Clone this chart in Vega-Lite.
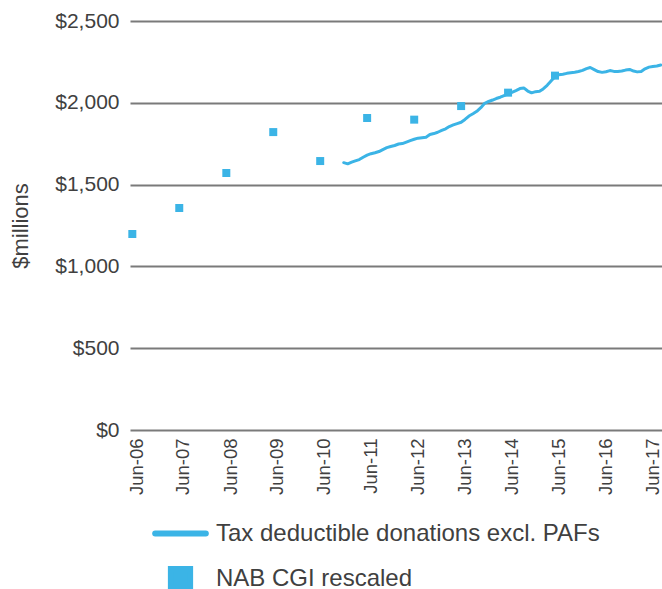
{
  "$schema": "https://vega.github.io/schema/vega-lite/v6.json",
  "width": 532,
  "height": 409,
  "autosize": {"type": "none"},
  "padding": {"left": 130, "top": 21, "right": 0, "bottom": 159},
  "background": "white",
  "config": {"view": {"stroke": null}, "font": "Liberation Sans"},
  "datasets": {
    "tax": [
      {"date": "2010-12-01", "value": 1634, "series": "Tax deductible donations excl. PAFs"},
      {"date": "2011-01-01", "value": 1627, "series": "Tax deductible donations excl. PAFs"},
      {"date": "2011-02-01", "value": 1637, "series": "Tax deductible donations excl. PAFs"},
      {"date": "2011-03-01", "value": 1645, "series": "Tax deductible donations excl. PAFs"},
      {"date": "2011-04-01", "value": 1653, "series": "Tax deductible donations excl. PAFs"},
      {"date": "2011-05-01", "value": 1667, "series": "Tax deductible donations excl. PAFs"},
      {"date": "2011-06-01", "value": 1680, "series": "Tax deductible donations excl. PAFs"},
      {"date": "2011-07-01", "value": 1689, "series": "Tax deductible donations excl. PAFs"},
      {"date": "2011-08-01", "value": 1695, "series": "Tax deductible donations excl. PAFs"},
      {"date": "2011-09-01", "value": 1702, "series": "Tax deductible donations excl. PAFs"},
      {"date": "2011-10-01", "value": 1714, "series": "Tax deductible donations excl. PAFs"},
      {"date": "2011-11-01", "value": 1726, "series": "Tax deductible donations excl. PAFs"},
      {"date": "2011-12-01", "value": 1733, "series": "Tax deductible donations excl. PAFs"},
      {"date": "2012-01-01", "value": 1739, "series": "Tax deductible donations excl. PAFs"},
      {"date": "2012-02-01", "value": 1748, "series": "Tax deductible donations excl. PAFs"},
      {"date": "2012-03-01", "value": 1751, "series": "Tax deductible donations excl. PAFs"},
      {"date": "2012-04-01", "value": 1760, "series": "Tax deductible donations excl. PAFs"},
      {"date": "2012-05-01", "value": 1769, "series": "Tax deductible donations excl. PAFs"},
      {"date": "2012-06-01", "value": 1777, "series": "Tax deductible donations excl. PAFs"},
      {"date": "2012-07-01", "value": 1784, "series": "Tax deductible donations excl. PAFs"},
      {"date": "2012-08-01", "value": 1787, "series": "Tax deductible donations excl. PAFs"},
      {"date": "2012-09-01", "value": 1790, "series": "Tax deductible donations excl. PAFs"},
      {"date": "2012-10-01", "value": 1806, "series": "Tax deductible donations excl. PAFs"},
      {"date": "2012-11-01", "value": 1812, "series": "Tax deductible donations excl. PAFs"},
      {"date": "2012-12-01", "value": 1820, "series": "Tax deductible donations excl. PAFs"},
      {"date": "2013-01-01", "value": 1831, "series": "Tax deductible donations excl. PAFs"},
      {"date": "2013-02-01", "value": 1841, "series": "Tax deductible donations excl. PAFs"},
      {"date": "2013-03-01", "value": 1855, "series": "Tax deductible donations excl. PAFs"},
      {"date": "2013-04-01", "value": 1865, "series": "Tax deductible donations excl. PAFs"},
      {"date": "2013-05-01", "value": 1873, "series": "Tax deductible donations excl. PAFs"},
      {"date": "2013-06-01", "value": 1881, "series": "Tax deductible donations excl. PAFs"},
      {"date": "2013-07-01", "value": 1898, "series": "Tax deductible donations excl. PAFs"},
      {"date": "2013-08-01", "value": 1919, "series": "Tax deductible donations excl. PAFs"},
      {"date": "2013-09-01", "value": 1933, "series": "Tax deductible donations excl. PAFs"},
      {"date": "2013-10-01", "value": 1948, "series": "Tax deductible donations excl. PAFs"},
      {"date": "2013-11-01", "value": 1970, "series": "Tax deductible donations excl. PAFs"},
      {"date": "2013-12-01", "value": 1997, "series": "Tax deductible donations excl. PAFs"},
      {"date": "2014-01-01", "value": 2008, "series": "Tax deductible donations excl. PAFs"},
      {"date": "2014-02-01", "value": 2017, "series": "Tax deductible donations excl. PAFs"},
      {"date": "2014-03-01", "value": 2026, "series": "Tax deductible donations excl. PAFs"},
      {"date": "2014-04-01", "value": 2034, "series": "Tax deductible donations excl. PAFs"},
      {"date": "2014-05-01", "value": 2044, "series": "Tax deductible donations excl. PAFs"},
      {"date": "2014-06-01", "value": 2054, "series": "Tax deductible donations excl. PAFs"},
      {"date": "2014-07-01", "value": 2064, "series": "Tax deductible donations excl. PAFs"},
      {"date": "2014-08-01", "value": 2075, "series": "Tax deductible donations excl. PAFs"},
      {"date": "2014-09-01", "value": 2087, "series": "Tax deductible donations excl. PAFs"},
      {"date": "2014-10-01", "value": 2091, "series": "Tax deductible donations excl. PAFs"},
      {"date": "2014-11-01", "value": 2072, "series": "Tax deductible donations excl. PAFs"},
      {"date": "2014-12-01", "value": 2061, "series": "Tax deductible donations excl. PAFs"},
      {"date": "2015-01-01", "value": 2068, "series": "Tax deductible donations excl. PAFs"},
      {"date": "2015-02-01", "value": 2070, "series": "Tax deductible donations excl. PAFs"},
      {"date": "2015-03-01", "value": 2085, "series": "Tax deductible donations excl. PAFs"},
      {"date": "2015-04-01", "value": 2107, "series": "Tax deductible donations excl. PAFs"},
      {"date": "2015-05-01", "value": 2133, "series": "Tax deductible donations excl. PAFs"},
      {"date": "2015-06-01", "value": 2160, "series": "Tax deductible donations excl. PAFs"},
      {"date": "2015-07-01", "value": 2172, "series": "Tax deductible donations excl. PAFs"},
      {"date": "2015-08-01", "value": 2175, "series": "Tax deductible donations excl. PAFs"},
      {"date": "2015-09-01", "value": 2180, "series": "Tax deductible donations excl. PAFs"},
      {"date": "2015-10-01", "value": 2184, "series": "Tax deductible donations excl. PAFs"},
      {"date": "2015-11-01", "value": 2187, "series": "Tax deductible donations excl. PAFs"},
      {"date": "2015-12-01", "value": 2191, "series": "Tax deductible donations excl. PAFs"},
      {"date": "2016-01-01", "value": 2198, "series": "Tax deductible donations excl. PAFs"},
      {"date": "2016-02-01", "value": 2209, "series": "Tax deductible donations excl. PAFs"},
      {"date": "2016-03-01", "value": 2216, "series": "Tax deductible donations excl. PAFs"},
      {"date": "2016-04-01", "value": 2203, "series": "Tax deductible donations excl. PAFs"},
      {"date": "2016-05-01", "value": 2191, "series": "Tax deductible donations excl. PAFs"},
      {"date": "2016-06-01", "value": 2186, "series": "Tax deductible donations excl. PAFs"},
      {"date": "2016-07-01", "value": 2190, "series": "Tax deductible donations excl. PAFs"},
      {"date": "2016-08-01", "value": 2197, "series": "Tax deductible donations excl. PAFs"},
      {"date": "2016-09-01", "value": 2192, "series": "Tax deductible donations excl. PAFs"},
      {"date": "2016-10-01", "value": 2191, "series": "Tax deductible donations excl. PAFs"},
      {"date": "2016-11-01", "value": 2194, "series": "Tax deductible donations excl. PAFs"},
      {"date": "2016-12-01", "value": 2200, "series": "Tax deductible donations excl. PAFs"},
      {"date": "2017-01-01", "value": 2204, "series": "Tax deductible donations excl. PAFs"},
      {"date": "2017-02-01", "value": 2194, "series": "Tax deductible donations excl. PAFs"},
      {"date": "2017-03-01", "value": 2189, "series": "Tax deductible donations excl. PAFs"},
      {"date": "2017-04-01", "value": 2192, "series": "Tax deductible donations excl. PAFs"},
      {"date": "2017-05-01", "value": 2208, "series": "Tax deductible donations excl. PAFs"},
      {"date": "2017-06-01", "value": 2218, "series": "Tax deductible donations excl. PAFs"},
      {"date": "2017-07-01", "value": 2222, "series": "Tax deductible donations excl. PAFs"},
      {"date": "2017-08-01", "value": 2225, "series": "Tax deductible donations excl. PAFs"},
      {"date": "2017-09-01", "value": 2231, "series": "Tax deductible donations excl. PAFs"}
    ],
    "nab": [
      {"date": "2006-06-01", "value": 1198, "series": "NAB CGI rescaled"},
      {"date": "2007-06-01", "value": 1357, "series": "NAB CGI rescaled"},
      {"date": "2008-06-01", "value": 1571, "series": "NAB CGI rescaled"},
      {"date": "2009-06-01", "value": 1821, "series": "NAB CGI rescaled"},
      {"date": "2010-06-01", "value": 1644, "series": "NAB CGI rescaled"},
      {"date": "2011-06-01", "value": 1907, "series": "NAB CGI rescaled"},
      {"date": "2012-06-01", "value": 1897, "series": "NAB CGI rescaled"},
      {"date": "2013-06-01", "value": 1980, "series": "NAB CGI rescaled"},
      {"date": "2014-06-01", "value": 2062, "series": "NAB CGI rescaled"},
      {"date": "2015-06-01", "value": 2166, "series": "NAB CGI rescaled"}
    ]
  },
  "encoding": {
    "x": {
      "field": "date",
      "type": "temporal",
      "scale": {
        "type": "utc",
        "domain": ["2006-05-14", "2017-09-10"]
      },
      "axis": {
        "values": ["2006-06-30", "2007-06-30", "2008-06-30", "2009-06-30", "2010-06-30", "2011-06-30", "2012-06-30", "2013-06-30", "2014-06-30", "2015-06-30", "2016-06-30", "2017-06-30"],
        "labelExpr": "utcFormat(datum.value, '%b-%y')",
        "labelAngle": 270,
        "labelAlign": "right",
        "labelBaseline": "middle",
        "labelPadding": 8,
        "labelFontSize": 18.5,
        "labelColor": "#404040",
        "labelFont": "Liberation Sans",
        "ticks": false,
        "domain": false,
        "grid": false,
        "labelOverlap": false,
        "title": null
      }
    },
    "y": {
      "field": "value",
      "type": "quantitative",
      "scale": {"domain": [0, 2500]},
      "axis": {
        "values": [0, 500, 1000, 1500, 2000, 2500],
        "format": "$,.0f",
        "grid": true,
        "gridColor": "#7a7a7a",
        "gridWidth": 1.8,
        "domain": false,
        "ticks": false,
        "labelPadding": 11,
        "labelFontSize": 21,
        "labelColor": "#404040",
        "labelFont": "Liberation Sans",
        "title": "$millions",
        "titleFont": "Liberation Sans",
        "titleFontSize": 22,
        "titleFontWeight": "normal",
        "titleColor": "#404040",
        "titlePadding": 22
      }
    },
    "color": {
      "field": "series",
      "type": "nominal",
      "scale": {
        "domain": ["Tax deductible donations excl. PAFs", "NAB CGI rescaled"],
        "range": ["#3BB4E6", "#3BB4E6"]
      },
      "legend": {
        "title": null,
        "orient": "none",
        "legendX": 22,
        "legendY": 484,
        "direction": "vertical",
        "padding": 0,
        "symbolSize": 2560,
        "symbolStrokeWidth": 6,
        "labelFont": "Liberation Sans",
        "labelFontSize": 24,
        "labelColor": "#404040",
        "labelOffset": 7,
        "labelLimit": 600,
        "rowPadding": 4,
        "encode": {
          "symbols": {
            "update": {
              "shape": {"signal": "datum.value === 'NAB CGI rescaled' ? 'M-0.38,-0.38H0.38V0.38H-0.38Z' : 'stroke'"},
              "size": {"value": 2560},
              "strokeWidth": {"value": 6},
              "fill": {"value": "#3BB4E6"},
              "stroke": {"signal": "datum.value === 'NAB CGI rescaled' ? 'transparent' : '#3BB4E6'"},
              "strokeCap": {"value": "round"},
              "opacity": {"value": 1},
              "fillOpacity": {"value": 1}
            }
          }
        }
      }
    }
  },
  "layer": [
    {
      "data": {"name": "tax"},
      "mark": {"type": "line", "strokeWidth": 3, "strokeJoin": "round", "strokeCap": "round"}
    },
    {
      "data": {"name": "nab"},
      "mark": {"type": "square", "size": 64, "opacity": 1, "filled": true}
    }
  ]
}
